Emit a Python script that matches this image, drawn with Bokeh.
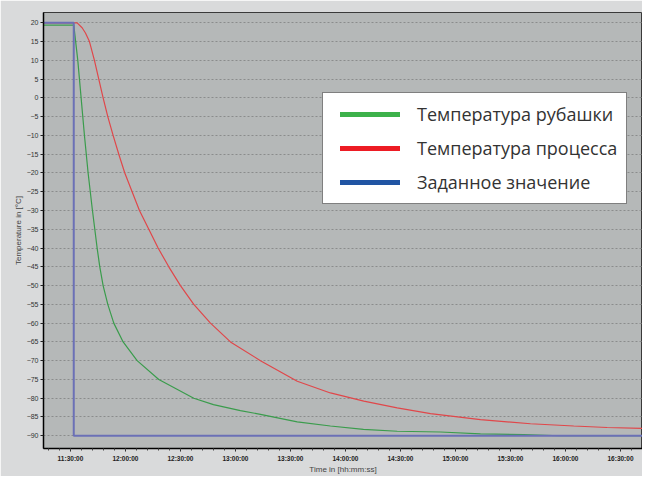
import numpy as np
import pandas as pd
from bokeh.plotting import figure
from bokeh.models import (FixedTicker, DatetimeTickFormatter, Range1d, Legend,
                          LegendItem, ColumnDataSource)
from bokeh.embed import file_html
from bokeh.resources import INLINE
from bokeh.core.properties import value

DAY = "2024-01-01 "

# ---- data ----
jacket_time = ["11:15:18", "11:31:49", "11:34:00", "11:35:49", "11:37:38", "11:39:38",
               "11:42:00", "11:44:33", "11:46:00", "11:47:49", "11:50:22", "11:53:38",
               "11:58:44", "12:06:22", "12:18:11", "12:37:16", "12:48:00", "13:02:42",
               "13:13:38", "13:33:42", "13:51:48", "14:09:48", "14:28:12", "14:51:48",
               "15:13:36", "15:37:06", "15:57:00", "16:46:24"]
jacket_temp = [19.4, 19.4, 10.0, 0.0, -10.0, -20.0, -30.0, -40.0, -45.0, -50.0, -55.0,
               -60.0, -65.0, -70.0, -75.0, -80.0, -81.7, -83.3, -84.3, -86.3, -87.4,
               -88.3, -88.8, -89.0, -89.5, -89.7, -90.0, -90.0]

process_time = ["11:15:18", "11:31:49", "11:33:38", "11:36:22", "11:38:11", "11:40:22",
                "11:43:05", "11:45:27", "11:47:49", "11:50:22", "11:53:16", "11:56:22",
                "11:59:38", "12:03:38", "12:07:38", "12:12:44", "12:17:49", "12:23:38",
                "12:30:00", "12:37:16", "12:46:22", "12:57:16", "13:13:38", "13:33:42",
                "13:51:48", "14:10:00", "14:28:12", "14:46:24", "15:13:36", "15:40:54",
                "16:04:30", "16:22:42", "16:46:24"]
process_temp = [20.0, 20.0, 20.0, 18.7, 17.3, 15.0, 10.0, 5.0, 0.0, -5.0, -10.0, -15.0,
                -20.0, -25.0, -30.0, -35.0, -40.0, -45.0, -50.0, -55.0, -60.0, -65.0,
                -70.0, -75.5, -78.6, -80.8, -82.6, -84.1, -85.7, -86.8, -87.4, -87.8,
                -88.1]

setpoint_time = ["11:15:18", "11:31:48", "11:31:48", "16:46:24"]
setpoint_temp = [20.0, 20.0, -90.0, -90.0]

x_tick_labels = ["11:30:00", "12:00:00", "12:30:00", "13:00:00", "13:30:00", "14:00:00",
                 "14:30:00", "15:00:00", "15:30:00", "16:00:00", "16:30:00"]
y_ticks = [-90, -85, -80, -75, -70, -65, -60, -55, -50, -45, -40, -35, -30, -25, -20,
           -15, -10, -5, 0, 5, 10, 15, 20]
series_names = ["Температура рубашки", "Температура процесса", "Заданное значение"]
series_colors = ["#3a9c4c", "#e0474a", "#6b70b6"]
legend_colors = ["#3cb14a", "#ed1c24", "#2155a3"]

x_start, x_end = "11:15:18", "16:42:00"
y_start, y_end = -93.4, 22.75


def ts(lst):
    return pd.to_datetime([DAY + t for t in lst])


def to_ms(stamps):
    return [float((t - pd.Timestamp("1970-01-01")) / pd.Timedelta("1ms")) for t in stamps]


major_ms = to_ms(ts(x_tick_labels))
minor_ms = to_ms(pd.date_range(DAY + "11:18:00", DAY + "16:42:00", freq="6min"))

p = figure(width=642, height=476, x_axis_type="datetime", output_backend="svg",
           toolbar_location=None,
           x_range=Range1d(ts([x_start])[0], ts([x_end])[0]),
           y_range=Range1d(y_start, y_end),
           min_border_left=43, min_border_top=12, min_border_right=0,
           min_border_bottom=25)

p.background_fill_color = "#b5b8b8"
p.border_fill_color = "#d9dadb"
p.outline_line_color = "#3a3a3a"
p.outline_line_width = 1

p.xgrid.visible = False
p.ygrid.ticker = FixedTicker(ticks=y_ticks)
p.ygrid.grid_line_color = "#8a8c8c"
p.ygrid.grid_line_dash = "2 2"
p.ygrid.grid_line_width = 1

# y axis
p.yaxis.ticker = FixedTicker(ticks=y_ticks)
p.yaxis.axis_line_color = "black"
p.yaxis.axis_line_width = 1.5
p.yaxis.major_tick_in = 0
p.yaxis.major_tick_out = 3
p.yaxis.major_tick_line_color = "#222"
p.yaxis.minor_tick_line_color = None
p.yaxis.major_label_text_font = "Liberation Sans"
p.yaxis.major_label_text_font_size = "7px"
p.yaxis.major_label_text_color = "#333"
p.yaxis.major_label_standoff = 2
p.yaxis.axis_label = "Temperature in [°C]"
p.yaxis.axis_label_text_font = "Liberation Sans"
p.yaxis.axis_label_text_font_size = "8px"
p.yaxis.axis_label_text_font_style = "normal"
p.yaxis.axis_label_text_color = "#444"
p.yaxis.axis_label_standoff = 1

# x axis
p.xaxis.ticker = FixedTicker(ticks=major_ms, minor_ticks=minor_ms)
fmt = "%H:%M:%S"
p.xaxis.formatter = DatetimeTickFormatter(seconds=fmt, minsec=fmt, minutes=fmt,
                                          hourmin=fmt, hours=fmt, days=fmt)
p.xaxis.axis_line_color = "black"
p.xaxis.axis_line_width = 1.5
p.xaxis.major_tick_in = 0
p.xaxis.major_tick_out = 3
p.xaxis.minor_tick_in = 0
p.xaxis.minor_tick_out = 2
p.xaxis.major_tick_line_color = "#222"
p.xaxis.minor_tick_line_color = "#444"
p.xaxis.major_label_text_font = "Liberation Sans"
p.xaxis.major_label_text_font_size = "6.5px"
p.xaxis.major_label_text_font_style = "bold"
p.xaxis.major_label_text_color = "#222"
p.xaxis.major_label_standoff = 3
p.xaxis.axis_label = "Time in [hh:mm:ss]"
p.xaxis.axis_label_text_font = "Liberation Sans"
p.xaxis.axis_label_text_font_size = "8px"
p.xaxis.axis_label_text_font_style = "normal"
p.xaxis.axis_label_text_color = "#444"
p.xaxis.axis_label_standoff = 0

# data lines
p.line(ts(jacket_time), jacket_temp, line_color=series_colors[0], line_width=1.2)
p.line(ts(process_time), process_temp, line_color=series_colors[1], line_width=1.2)
p.line(ts(setpoint_time), setpoint_temp, line_color=series_colors[2], line_width=2)

# legend swatches (empty renderers used only for their legend glyph)
items = []
for name, col in zip(series_names, legend_colors):
    src = ColumnDataSource(dict(l=[np.nan], r=[np.nan], t=[np.nan], b=[np.nan]))
    r = p.quad(left="l", right="r", top="t", bottom="b", source=src,
               fill_color=col, line_alpha=0)
    items.append(LegendItem(label=value(name), renderers=[r]))

legend = Legend(items=items, location=(279, 244), glyph_width=75, glyph_height=6,
                label_height=22, label_standoff=10, spacing=10, padding=9,
                border_line_color="black", border_line_width=1.5,
                background_fill_color="white", background_fill_alpha=1,
                label_text_font="Open Sans", label_text_font_size="18px",
                label_text_color="#333")
p.add_layout(legend)

html = file_html(p, INLINE)
html = html.replace("<body>", '<body style="background-color:#e3e8f0;">', 1)
open("out.html", "w").write(html)
